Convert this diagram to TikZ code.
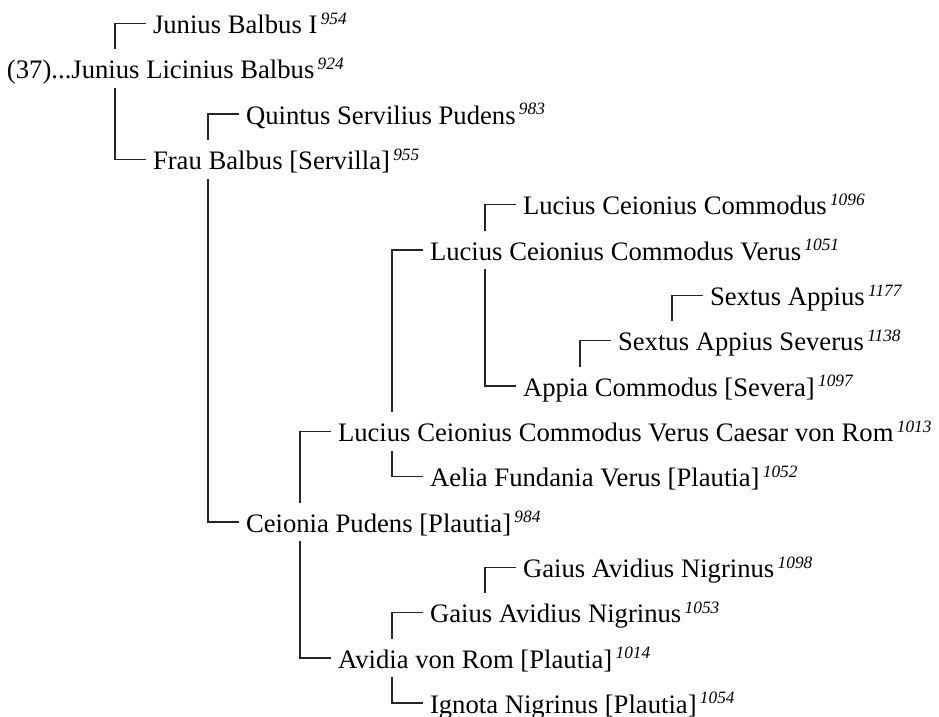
\documentclass[tikz,border=0pt]{standalone}
\usepackage{fontspec}
\setmainfont{Liberation Serif}
\usetikzlibrary{calc}
\newcommand\gen[1]{\hspace{2.5pt}\raisebox{6.8pt}{\fontsize{13}{13}\selectfont\itshape #1}}
\tikzset{
  person/.style={anchor=base west, inner sep=0pt, outer sep=0pt,
    text height=22.1pt, text depth=7.1pt, font=\fontsize{20}{24}\selectfont},
  linkline/.style={line width=1pt, draw=black!85}
}
\begin{document}
\begin{tikzpicture}[x=0.75pt,y=-0.75pt]
\useasboundingbox (0,0) rectangle (939,717);
% baselines: 33.3 + 45.33 i
\node[person] (r0)  at (153,33.3)  {Junius Balbus I\gen{954}};
\node[person] (r1)  at (7,78.6)    {(37)...Junius Licinius Balbus\gen{924}};
\node[person] (r2)  at (246,124.0) {Quintus Servilius Pudens\gen{983}};
\node[person] (r3)  at (153,169.3) {Frau Balbus [Servilla]\gen{955}};
\node[person] (r4)  at (523,214.6) {Lucius Ceionius Commodus\gen{1096}};
\node[person] (r5)  at (430,260.0) {Lucius Ceionius Commodus Verus\gen{1051}};
\node[person] (r6)  at (710,305.3) {Sextus Appius\gen{1177}};
\node[person] (r7)  at (618,350.6) {Sextus Appius Severus\gen{1138}};
\node[person] (r8)  at (523,396.0) {Appia Commodus [Severa]\gen{1097}};
\node[person] (r9)  at (338,441.3) {Lucius Ceionius Commodus Verus Caesar von Rom\gen{1013}};
\node[person] (r10) at (430,486.6) {Aelia Fundania Verus [Plautia]\gen{1052}};
\node[person] (r11) at (246,532.0) {Ceionia Pudens [Plautia]\gen{984}};
\node[person] (r12) at (523,577.3) {Gaius Avidius Nigrinus\gen{1098}};
\node[person] (r13) at (430,622.6) {Gaius Avidius Nigrinus\gen{1053}};
\node[person] (r14) at (338,668.0) {Avidia von Rom [Plautia]\gen{1014}};
\node[person] (r15) at (430,713.0) {Ignota Nigrinus [Plautia]\gen{1054}};
% connectors: child above parent -> parent.north ; child below parent -> parent.south
\draw[linkline] ($(r0.west)+(-7,0)$)  -| ($(r0.west |- r1.north)+(-38,0)$);
\draw[linkline] ($(r3.west)+(-7,0)$)  -| ($(r3.west |- r1.south)+(-38,0)$);
\draw[linkline] ($(r2.west)+(-7,0)$)  -| ($(r2.west |- r3.north)+(-38,0)$);
\draw[linkline] ($(r11.west)+(-7,0)$) -| ($(r11.west |- r3.south)+(-38,0)$);
\draw[linkline] ($(r9.west)+(-7,0)$)  -| ($(r9.west |- r11.north)+(-38,0)$);
\draw[linkline] ($(r14.west)+(-7,0)$) -| ($(r14.west |- r11.south)+(-38,0)$);
\draw[linkline] ($(r5.west)+(-7,0)$)  -| ($(r5.west |- r9.north)+(-38,0)$);
\draw[linkline] ($(r10.west)+(-7,0)$) -| ($(r10.west |- r9.south)+(-38,0)$);
\draw[linkline] ($(r4.west)+(-7,0)$)  -| ($(r4.west |- r5.north)+(-38,0)$);
\draw[linkline] ($(r8.west)+(-7,0)$)  -| ($(r8.west |- r5.south)+(-38,0)$);
\draw[linkline] ($(r7.west)+(-7,0)$)  -| ($(r7.west |- r8.north)+(-38,0)$);
\draw[linkline] ($(r6.west)+(-7,0)$)  -| ($(r6.west |- r7.north)+(-38,0)$);
\draw[linkline] ($(r13.west)+(-7,0)$) -| ($(r13.west |- r14.north)+(-38,0)$);
\draw[linkline] ($(r12.west)+(-7,0)$) -| ($(r12.west |- r13.north)+(-38,0)$);
\draw[linkline] ($(r15.west)+(-7,0)$) -| ($(r15.west |- r14.south)+(-38,0)$);
\end{tikzpicture}
\end{document}
